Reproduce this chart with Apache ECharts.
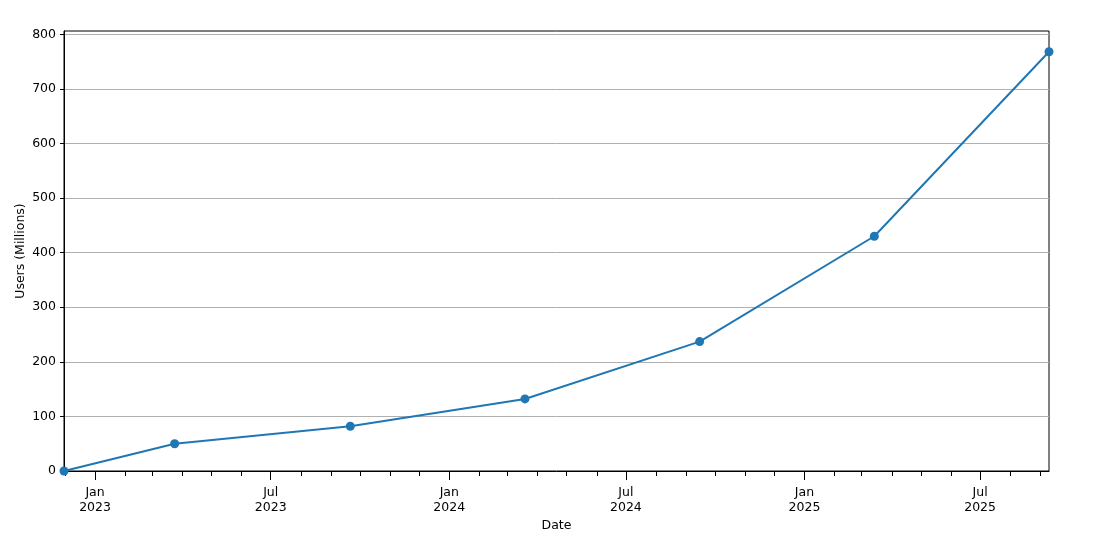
<!DOCTYPE html>
<html>
<head>
<meta charset="utf-8">
<script src="https://cdn.jsdelivr.net/npm/echarts@6/dist/echarts.min.js"></script>
<style>
html,body{margin:0;padding:0;background:#fff;}
#chart{width:1096px;height:540px;}
</style>
</head>
<body>
<div id="chart"></div>
<script>
// Data
const dates = ['2022-11-30','2023-03-24','2023-09-21','2024-03-19','2024-09-15','2025-03-14','2025-09-10'];
const users = [0, 50, 82, 132, 237, 430, 768];
const yTicks = [0, 100, 200, 300, 400, 500, 600, 700, 800];
const majorTickDates = ['2023-01-01','2023-07-01','2024-01-01','2024-07-01','2025-01-01','2025-07-01'];
const monthNames = ['Jan','Feb','Mar','Apr','May','Jun','Jul','Aug','Sep','Oct','Nov','Dec'];

function ts(s){ const p = s.split('-').map(Number); return Date.UTC(p[0], p[1]-1, p[2]); }
const xMin = ts(dates[0]);
const xMax = ts(dates[dates.length-1]);
const majorTs = majorTickDates.map(ts);
// monthly minor ticks within range
const minorTs = [];
{
  let y = 2022, m = 11;
  while (true) {
    const t = Date.UTC(y, m, 1);
    if (t > xMax) break;
    if (t >= xMin) minorTs.push(t);
    m++; if (m > 11) { m = 0; y++; }
  }
}

const FONT = 'DejaVu Sans';
const chart = echarts.init(document.getElementById('chart'), null, {renderer:'canvas'});
chart.setOption({
  animation: false,
  backgroundColor: '#fff',
  textStyle: {fontFamily: FONT},
  grid: {left: 64, right: 47, top: 31, bottom: 69, show: true, borderColor: '#000', borderWidth: 1, backgroundColor: 'transparent'},
  xAxis: [{
    type: 'value', min: xMin, max: xMax, scale: true,
    name: 'Date', nameLocation: 'middle', nameGap: 48, nameMoveOverlap: false,
    nameTextStyle: {fontFamily: FONT, fontSize: 12.5, color: '#000'},
    axisLine: {show: true, onZero: false, lineStyle: {color: '#000', width: 1}},
    axisTick: {show: true, length: 9, lineStyle: {color: '#000', width: 1}, customValues: majorTs},
    axisLabel: {
      show: true, customValues: majorTs, fontFamily: FONT, fontSize: 12.5, color: '#000',
      margin: 14, lineHeight: 15, hideOverlap: false,
      formatter: function(v){ const d = new Date(v); return monthNames[d.getUTCMonth()] + '\n' + d.getUTCFullYear(); }
    },
    splitLine: {show: false}
  },{
    type: 'value', min: xMin, max: xMax, scale: true, position: 'bottom', offset: 0,
    axisLine: {show: false, onZero: false},
    axisTick: {show: true, length: 5, lineStyle: {color: '#000', width: 1}, customValues: minorTs},
    axisLabel: {show: false},
    splitLine: {show: false}
  }],
  yAxis: {
    type: 'value', min: 0, max: 806, interval: 100,
    name: 'Users (Millions)', nameLocation: 'middle', nameGap: 37, nameMoveOverlap: false,
    nameTextStyle: {fontFamily: FONT, fontSize: 12.5, color: '#000'},
    axisLine: {show: true, lineStyle: {color: '#000', width: 1}},
    axisTick: {show: true, length: 4, lineStyle: {color: '#000', width: 1}, customValues: yTicks},
    axisLabel: {fontFamily: FONT, fontSize: 12.5, color: '#000', margin: 8, customValues: yTicks},
    splitLine: {show: true, lineStyle: {color: '#b0b0b0', width: 1}}
  },
  series: [{
    type: 'line',
    xAxisIndex: 0,
    data: dates.map((d, i) => [ts(d), users[i]]),
    symbol: 'circle', symbolSize: 9, showAllSymbol: true,
    lineStyle: {color: '#1f77b4', width: 2},
    itemStyle: {color: '#1f77b4'},
    clip: false
  }]
});
</script>
</body>
</html>
